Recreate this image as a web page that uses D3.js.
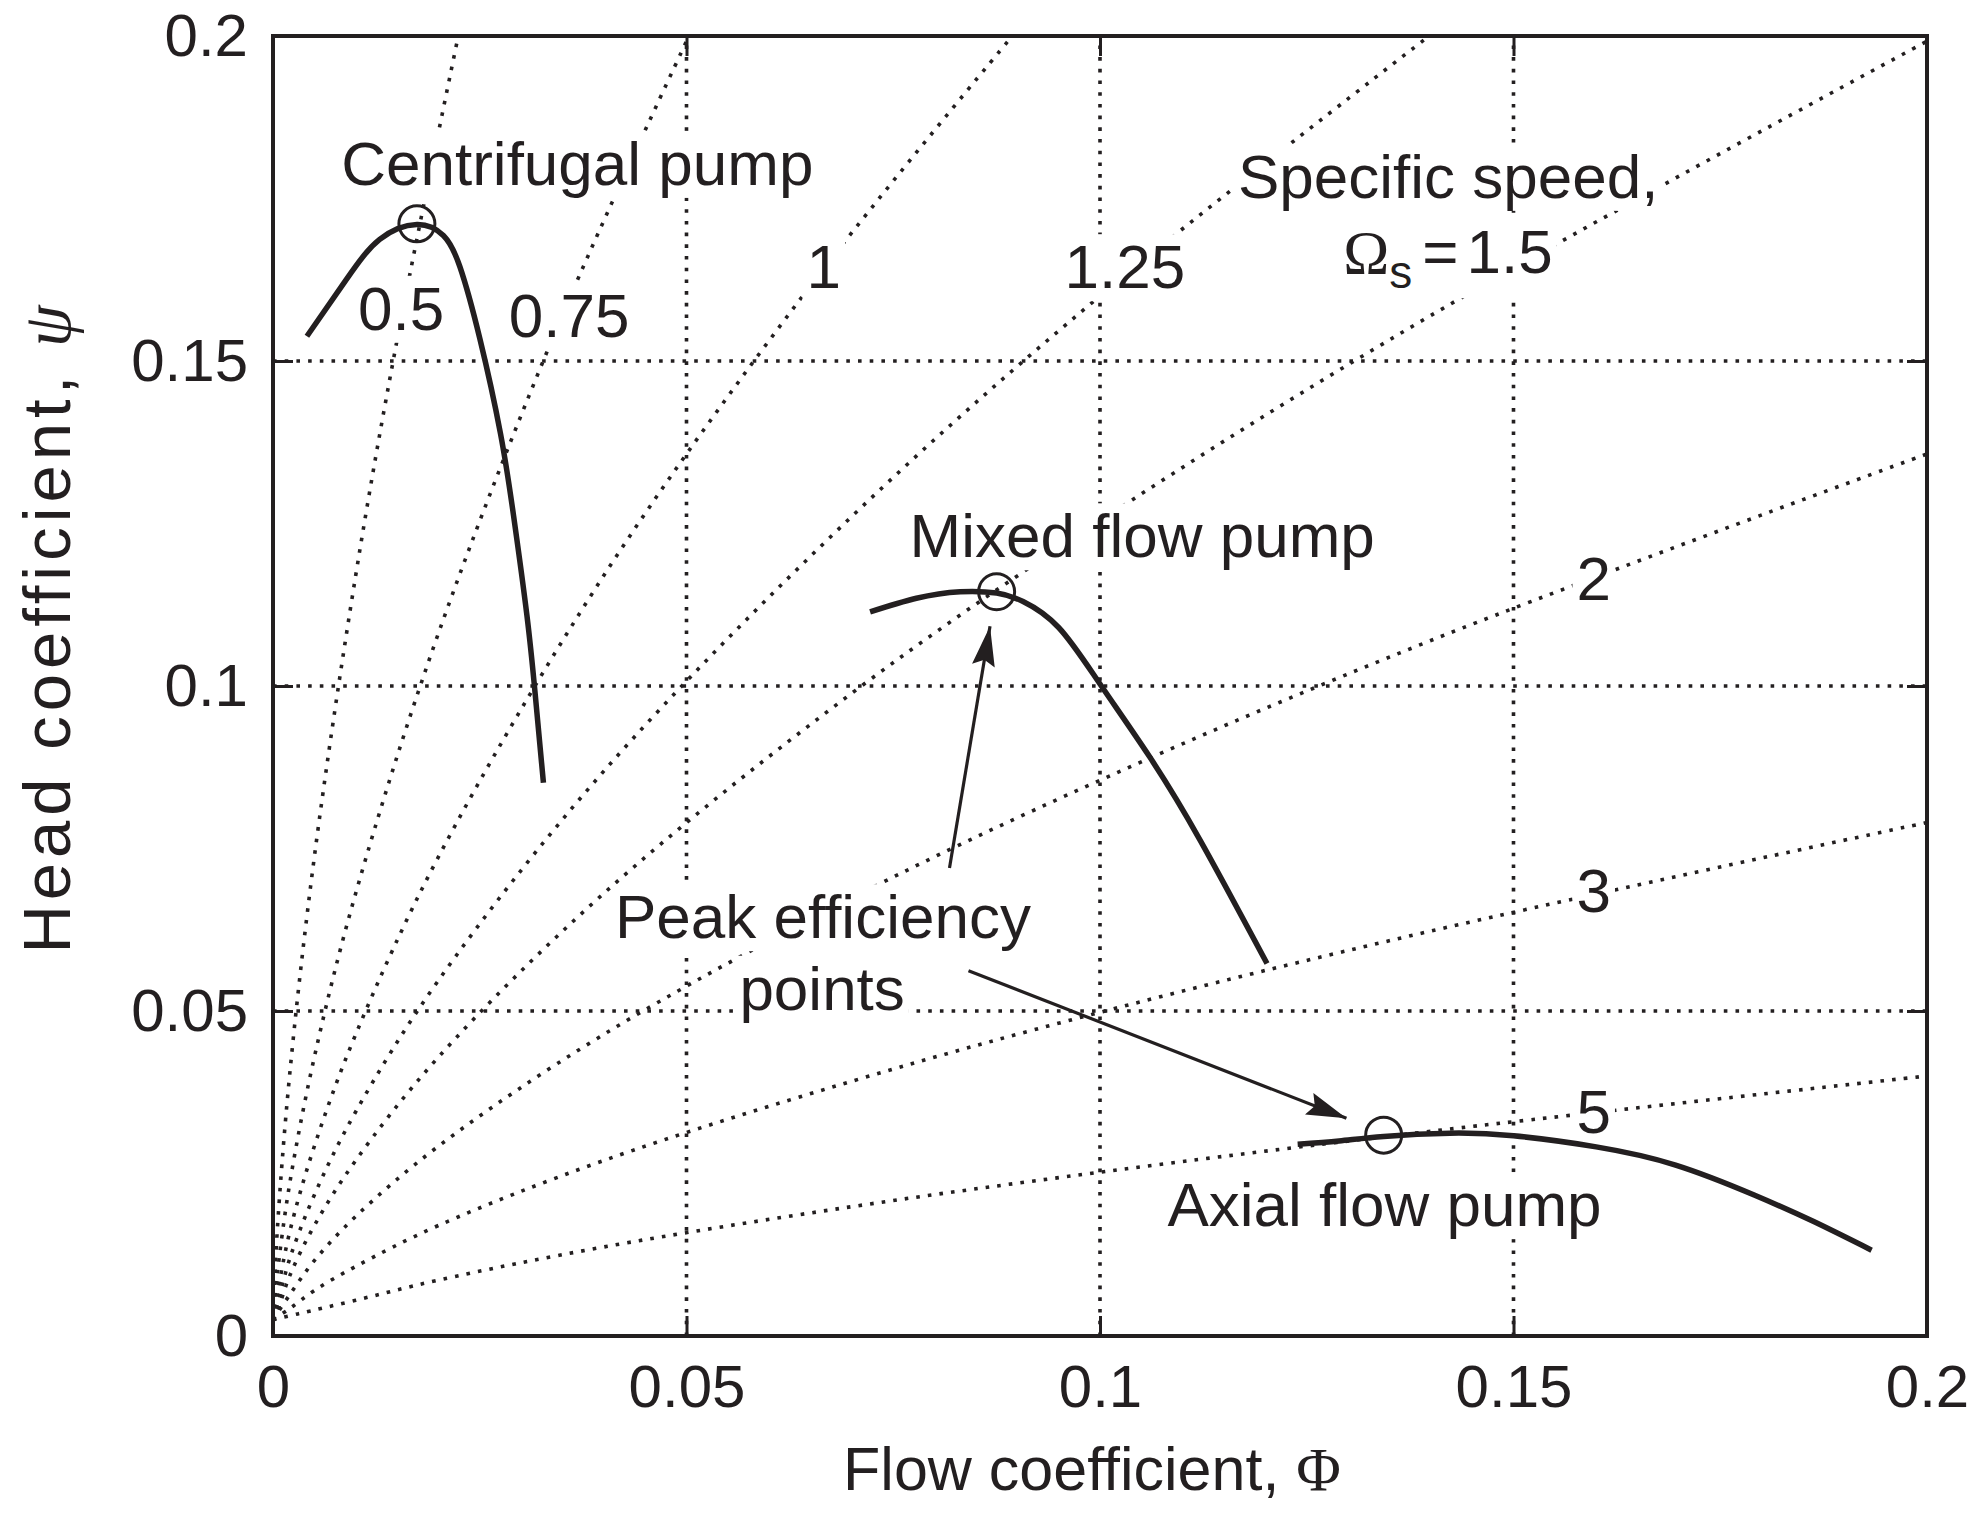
<!DOCTYPE html>
<html>
<head>
<meta charset="utf-8">
<script src="https://cdn.jsdelivr.net/npm/d3@7"></script>
<style>
  body { margin: 0; background: #fff; }
  text { font-family: "Liberation Sans", Arial, Helvetica, sans-serif; fill: #231f20; }
  .serif { font-family: "Liberation Serif", "DejaVu Serif", serif; }
</style>
</head>
<body>
<div id="chart"></div>
<script>
// canvas + plot box
var width = 1987, height = 1513;
var margin = {top: 36, right: 60, bottom: 177, left: 273};
var ink = "#231f20";

// ---- data ----
// axis ticks
var tickValues = [0, 0.05, 0.1, 0.15, 0.2];
var gridValues = [0.05, 0.1, 0.15];

// lines of constant specific speed, [Phi, Psi]
var speedLabels = ["0.5", "0.75", "1", "1.25", "1.5", "2", "3", "5"];
var speed050 = [[0,0.0025],[0.0005,0.0159],[0.002,0.0400],[0.005,0.0737],[0.01,0.1170],[0.015,0.1532],[0.0224,0.2]];
var speed075 = [[0,0.0025],[0.0005,0.0093],[0.002,0.0233],[0.005,0.0429],[0.01,0.0681],[0.02,0.1081],[0.035,0.1571],[0.0503,0.2]];
var speed100 = [[0,0.0025],[0.0005,0.0063],[0.002,0.0159],[0.005,0.0292],[0.01,0.0464],[0.02,0.0737],[0.04,0.1170],[0.065,0.1616],[0.0894,0.2]];
var speed125 = [[0,0.0025],[0.0005,0.0047],[0.002,0.0118],[0.005,0.0217],[0.01,0.0345],[0.02,0.0547],[0.04,0.0869],[0.07,0.1261],[0.1,0.1600],[0.1398,0.2]];
var speed150 = [[0,0.0025],[0.0005,0.0037],[0.002,0.0092],[0.005,0.0170],[0.01,0.0270],[0.02,0.0429],[0.04,0.0681],[0.07,0.0989],[0.1,0.1254],[0.14,0.1570],[0.2,0.1992]];
var speed200 = [[0,0.0025],[0.002,0.0063],[0.005,0.0116],[0.01,0.0184],[0.02,0.0292],[0.04,0.0464],[0.07,0.0674],[0.1,0.0855],[0.14,0.1070],[0.2,0.1357]];
var speed300 = [[0,0.0025],[0.002,0.0042],[0.005,0.0070],[0.01,0.0107],[0.02,0.0170],[0.04,0.0270],[0.07,0.0392],[0.1,0.0498],[0.14,0.0623],[0.2,0.0790]];
var speed500 = [[0,0.0025],[0.003,0.0034],[0.01,0.0055],[0.02,0.0086],[0.04,0.0137],[0.07,0.0199],[0.1,0.0252],[0.14,0.0315],[0.2,0.0400]];
var speedLines = [speed050, speed075, speed100, speed125, speed150, speed200, speed300, speed500];

// pump characteristics, [Phi, Psi]
var centrifugal = [[0.0041,0.1538],[0.0089,0.1626],[0.0129,0.1687],[0.0174,0.1710],[0.0206,0.1693],[0.0226,0.1645],[0.0250,0.1535],[0.0275,0.1389],[0.0291,0.1261],[0.0307,0.1109],[0.0317,0.0988],[0.0327,0.0851]];
var mixedFlow = [[0.0722,0.1114],[0.0778,0.1135],[0.0831,0.1145],[0.0875,0.1143],[0.0907,0.1130],[0.0950,0.1090],[0.1000,0.1003],[0.1060,0.0891],[0.1121,0.0763],[0.1202,0.0573]];
var axialFlow = [[0.1239,0.0295],[0.1289,0.0300],[0.1343,0.0307],[0.1423,0.0312],[0.1500,0.0308],[0.1600,0.0291],[0.1696,0.0263],[0.1791,0.0217],[0.1863,0.0176],[0.1933,0.0132]];
var pumpCurves = [centrifugal, mixedFlow, axialFlow];
// peak efficiency points
var peakPoints = [[0.0174,0.1711],[0.0875,0.1145],[0.1343,0.0309]];

// annotation texts
var pumpNames = ["Centrifugal pump", "Mixed flow pump", "Axial flow pump"];
var noteLines = ["Peak efficiency", "points"];

// ---- layout (where the texts sit, in Phi/Psi units) ----
var speedLabelAt = [[0.0155,0.1548],[0.0358,0.1537],[0.0666,0.1612],[0.1030,0.1612],null,[0.1597,0.1132],[0.1597,0.0652],[0.1597,0.0312]];
var pumpNameAt = [[0.0368,0.1771],[0.1051,0.1198],[0.1344,0.0169]];
var noteAt = [[0.0665,0.0612],[0.0664,0.0502]];
var arrows = [[[0.0818,0.0720],[0.0867,0.1092]], [[0.0841,0.0562],[0.1298,0.0335]]];

var x = d3.scaleLinear().domain([0, 0.2]).range([margin.left, width - margin.right]);
var y = d3.scaleLinear().domain([0, 0.2]).range([height - margin.bottom, margin.top]);
var fmt = d3.format("~g");

var svg = d3.select("#chart").append("svg")
    .attr("width", width)
    .attr("height", height)
    .style("background", "#fff");

svg.append("defs").append("clipPath").attr("id", "plot")
  .append("rect")
    .attr("x", x(0)).attr("y", y(0.2))
    .attr("width", x(0.2) - x(0)).attr("height", y(0) - y(0.2));

svg.select("defs").append("marker")
    .attr("id", "head")
    .attr("markerUnits", "userSpaceOnUse")
    .attr("viewBox", "0 0 40 23")
    .attr("refX", 40).attr("refY", 11.5)
    .attr("markerWidth", 40).attr("markerHeight", 23)
    .attr("orient", "auto")
  .append("path")
    .attr("d", "M0,0 L40,11.5 L0,23 L6,11.5 Z")
    .attr("fill", ink);

var dots = "3.6 8.1";

// gridlines
var grid = svg.append("g").attr("class", "grid")
    .attr("stroke", ink).attr("stroke-width", 3.6).attr("stroke-dasharray", dots);
grid.selectAll(".gx").data(gridValues).enter().append("line")
    .attr("x1", d => x(d)).attr("x2", d => x(d))
    .attr("y1", y(0)).attr("y2", y(0.2));
grid.selectAll(".gy").data(gridValues).enter().append("line")
    .attr("y1", d => y(d)).attr("y2", d => y(d))
    .attr("x1", x(0)).attr("x2", x(0.2));

// specific speed lines
var line = d3.line().x(d => x(d[0])).y(d => y(d[1])).curve(d3.curveCatmullRom.alpha(0.5));
svg.append("g").attr("clip-path", "url(#plot)")
  .selectAll("path").data(speedLines).enter().append("path")
    .attr("d", line)
    .attr("fill", "none")
    .attr("stroke", ink).attr("stroke-width", 3.6)
    .attr("stroke-dasharray", dots);

// labels with white boxes behind them
var labels = svg.append("g").attr("class", "labels");
function note(txt, at, size) {
  var g = labels.append("g");
  var t = g.append("text")
      .attr("x", x(at[0])).attr("y", y(at[1]))
      .attr("text-anchor", "middle")
      .attr("font-size", size)
      .text(txt);
  var b = t.node().getBBox();
  g.insert("rect", "text")
      .attr("x", b.x - 4).attr("y", b.y + 2)
      .attr("width", b.width + 8).attr("height", b.height - 2)
      .attr("fill", "#fff");
  return g;
}
speedLabels.forEach(function(s, i) { if (speedLabelAt[i]) note(s, speedLabelAt[i], 62); });
pumpNames.forEach(function(s, i) { note(s, pumpNameAt[i], 62); });
noteLines.forEach(function(s, i) { note(s, noteAt[i], 62); });
note("Specific speed,", [0.1421, 0.1751], 62);

// "Omega_s = 1.5"
var og = labels.append("g");
var ot = og.append("text").attr("x", x(0.1294)).attr("y", y(0.1635)).attr("font-size", 62);
ot.append("tspan").attr("class", "serif").text("\u03a9");
ot.append("tspan").attr("dy", 15).attr("font-size", 46).text("s");
ot.append("tspan").attr("dy", -15).attr("dx", 10).text("=");
ot.append("tspan").attr("dx", 8).text(speedLabels[4]);
var ob = ot.node().getBBox();
og.insert("rect", "text")
    .attr("x", ob.x - 4).attr("y", ob.y + 2)
    .attr("width", ob.width + 8).attr("height", ob.height - 2)
    .attr("fill", "#fff");

// pump curves (smooth spline through the read points)
var pumpLine = d3.line().x(d => x(d[0])).y(d => y(d[1])).curve(d3.curveNatural);
svg.append("g").selectAll("path").data(pumpCurves).enter().append("path")
    .attr("d", pumpLine)
    .attr("fill", "none")
    .attr("stroke", ink).attr("stroke-width", 5.5)
    .attr("stroke-linecap", "butt");

svg.append("g").selectAll("circle").data(peakPoints).enter().append("circle")
    .attr("cx", d => x(d[0])).attr("cy", d => y(d[1]))
    .attr("r", 18)
    .attr("fill", "none")
    .attr("stroke", ink).attr("stroke-width", 3);

// arrows to the peak points
svg.append("g").selectAll("line").data(arrows).enter().append("line")
    .attr("x1", d => x(d[0][0])).attr("y1", d => y(d[0][1]))
    .attr("x2", d => x(d[1][0])).attr("y2", d => y(d[1][1]))
    .attr("stroke", ink).attr("stroke-width", 3.2)
    .attr("marker-end", "url(#head)");

// frame
svg.append("rect")
    .attr("x", x(0)).attr("y", y(0.2))
    .attr("width", x(0.2) - x(0)).attr("height", y(0) - y(0.2))
    .attr("fill", "none").attr("stroke", ink).attr("stroke-width", 4);

// axes: inward solid ticks on all four sides
function styleAxis(g) {
  g.select(".domain").remove();
  g.selectAll("line").attr("stroke", ink).attr("stroke-width", 3);
  g.selectAll("text").attr("font-size", 60).attr("fill", ink)
    .style("font-family", '"Liberation Sans", Arial, sans-serif');
}
svg.append("g").attr("transform", "translate(0," + y(0) + ")")
    .call(d3.axisBottom(x).tickValues(tickValues).tickSize(-20).tickPadding(28).tickFormat(fmt))
    .call(styleAxis);
svg.append("g").attr("transform", "translate(" + x(0) + ",0)")
    .call(d3.axisLeft(y).tickValues(tickValues).tickSize(-20).tickPadding(25).tickFormat(fmt))
    .call(styleAxis);
svg.append("g").attr("transform", "translate(0," + y(0.2) + ")")
    .call(d3.axisTop(x).tickValues(gridValues).tickSize(-20).tickFormat(""))
    .call(styleAxis);
svg.append("g").attr("transform", "translate(" + x(0.2) + ",0)")
    .call(d3.axisRight(y).tickValues(gridValues).tickSize(-20).tickFormat(""))
    .call(styleAxis);

// axis titles
var xt = svg.append("text")
    .attr("x", (x(0) + x(0.2)) / 2 - 8).attr("y", 1490)
    .attr("text-anchor", "middle").attr("font-size", 61)
    .text("Flow coefficient, ");
xt.append("tspan").attr("class", "serif").text("\u03a6");

var yt = svg.append("text")
    .attr("transform", "translate(70,627) rotate(-90)")
    .attr("text-anchor", "middle").attr("font-size", 67)
    .attr("letter-spacing", 5)
    .text("Head coefficient, ");
yt.append("tspan").attr("class", "serif").attr("font-style", "italic").text("\u03c8");
</script>
</body>
</html>
